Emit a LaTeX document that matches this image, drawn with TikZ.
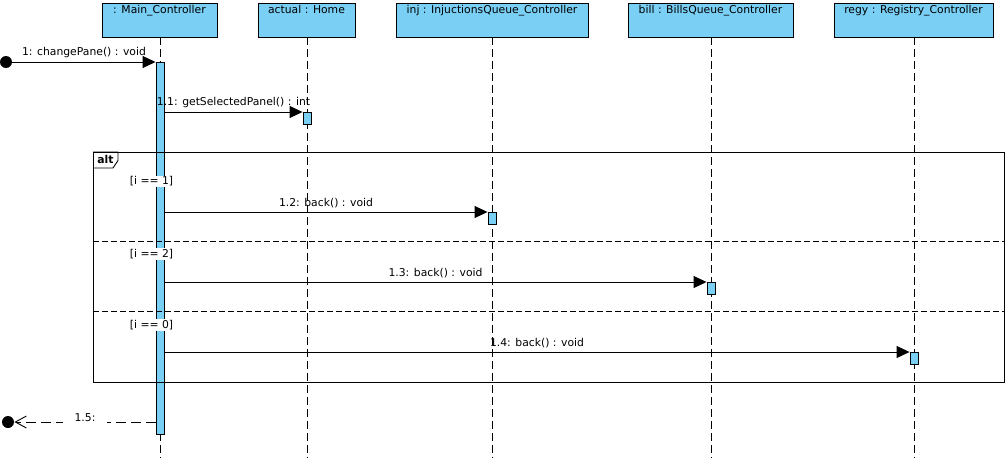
\documentclass[tikz,border=0pt]{standalone}
\usepackage{fontspec}
\setmainfont{DejaVu Sans}
\usetikzlibrary{arrows.meta, positioning}
\definecolor{vpblue}{RGB}{122,207,245}

\begin{document}
\begin{tikzpicture}[x=1pt, y=-1pt, line width=0.9pt,
                    font=\fontsize{10.8}{12}\selectfont,
                    head/.style= {rectangle,
                      draw,
                      fill=vpblue,
                      inner sep=0pt,
                      minimum height=34pt},
                    act/.style= {rectangle,
                      draw,
                      fill=vpblue,
                      inner sep=0pt,
                      minimum width=8pt,
                      anchor=north},
                    life/.style= {dash pattern=on 8pt off 4pt},
                    sep/.style= {dash pattern=on 6pt off 3pt},
                    msg/.style= {-{Triangle[length=13pt, width=12pt]}},
                    ret/.style= {-{Straight Barb[length=11pt, width=12pt]},
                      dash pattern=on 10pt off 5pt},
                    guard/.style= {fill=white, inner sep=1pt},
                    found/.style= {circle,
                      fill=black,
                      inner sep=0pt,
                      minimum size=12pt}]

  \useasboundingbox (0,0) rectangle (1008,458);

  % lifeline heads
  \node[head, minimum width=115pt] (main) at (159.5,20) {};
  \node[head, minimum width=97pt] (home) at (306.5,20) {};
  \node[head, minimum width=192pt] (inj) at (492,20) {};
  \node[head, minimum width=165pt] (bill) at (710.5,20) {};
  \node[head, minimum width=159pt] (regy) at (913.5,20) {};
  \node[anchor=north, inner sep=2.5pt] at (main.north) {: Main\_Controller};
  \node[anchor=north, inner sep=2.5pt] at (home.north) {actual : Home};
  \node[anchor=north, inner sep=2.5pt] at (inj.north) {inj : InjuctionsQueue\_Controller};
  \node[anchor=north, inner sep=2.5pt] at (bill.north) {bill : BillsQueue\_Controller};
  \node[anchor=north, inner sep=2.5pt] at (regy.north) {regy : Registry\_Controller};

  % lifelines
  \coordinate (mainb) at (160,458);
  \coordinate (homeb) at (307,458);
  \coordinate (injb) at (492,458);
  \coordinate (billb) at (711,458);
  \coordinate (regyb) at (914,458);
  \draw[life] (main.south -| mainb) -- (mainb);
  \draw[life] (home.south -| homeb) -- (homeb);
  \draw[life] (inj.south -| injb) -- (injb);
  \draw[life] (bill.south -| billb) -- (billb);
  \draw[life] (regy.south -| regyb) -- (regyb);

  % activations
  \node[act, minimum height=372pt] (a1) at (160,62) {};
  \node[act, minimum height=12pt] (a2) at (307,112) {};
  \node[act, minimum height=12pt] (a3) at (492,212) {};
  \node[act, minimum height=12pt] (a4) at (711,282) {};
  \node[act, minimum height=12pt] (a5) at (914,352) {};

  % alt fragment
  \node[draw, anchor=north west, minimum width=911pt, minimum height=230pt,
        inner sep=0pt] (alt) at (93,152) {};
  \draw (alt.north west) -| (118,160.5) -- (113,168) -- (alt.west |- 0,168);
  \node[font=\fontsize{10.8}{12}\selectfont\bfseries] at (105.5,159.5) {alt};
  \draw[sep] (alt.west |- 0,241) -- (alt.east |- 0,241);
  \draw[sep] (alt.west |- 0,311) -- (alt.east |- 0,311);
  \node[guard] (g1) at (151.5,181.5) {[i == 1]};
  \node[guard] (g2) at (151.5,254) {[i == 2]};
  \node[guard] (g3) at (151.5,325) {[i == 0]};

  % messages
  \node[found] (f1) at (6,62) {};
  \node[found] (f2) at (8,422) {};
  \draw[msg] (f1) -- (a1.north west)
    node[midway, above=0.5pt] {1: changePane() : void};
  \draw[msg] (a1.east |- a2.north) -- (a2.north west)
    node[midway, above=0.5pt] {1.1: getSelectedPanel() : int};
  \draw[msg] (a1.east |- a3.north) -- (a3.north west)
    node[midway, above=0.5pt] {1.2: back() : void};
  \draw[msg] (a1.east |- a4.north) -- (a4.north west)
    node[midway, above=0.5pt] {1.3: back() : void};
  \draw[msg] (a1.east |- a5.north) -- (a5.north west)
    node[midway, above=0.5pt] {1.4: back() : void};
  \draw[ret] (a1.west |- f2) -- (f2)
    node[midway, fill=white, inner xsep=12pt, inner ysep=1pt, yshift=4pt] {1.5:};
\end{tikzpicture}
\end{document}
